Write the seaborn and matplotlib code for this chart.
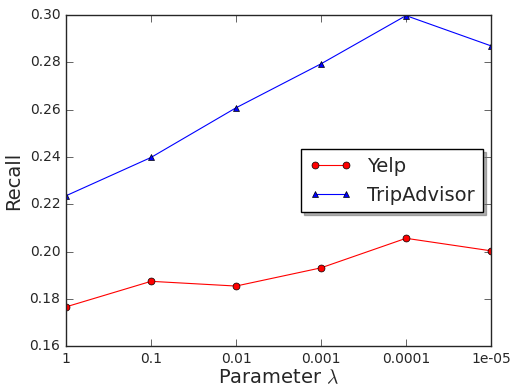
import seaborn as sns
import matplotlib.pyplot as plt
import pandas as pd

# values
lambdas = ["1", "0.1", "0.01", "0.001", "0.0001", "1e-05"]
yelp = [0.1766, 0.1874, 0.1854, 0.1931, 0.2056, 0.2003]
tripadvisor = [0.2236, 0.2398, 0.2608, 0.2794, 0.2998, 0.2870]

plt.style.use("classic")
sns.set_style("ticks", {"xtick.direction": "in", "ytick.direction": "in"})
plt.rcParams["font.family"] = ["DejaVu Sans"]

pos = list(range(len(lambdas)))
df = pd.DataFrame({"pos": pos, "Yelp": yelp, "TripAdvisor": tripadvisor})

fig = plt.figure(figsize=(5.12, 3.88), dpi=100)
ax = fig.add_axes([0.129, 0.108, 0.830, 0.853])

sns.lineplot(data=df, x="pos", y="Yelp", color="red", marker="o", markersize=5,
             markeredgecolor="black", markeredgewidth=0.5, linewidth=0.8, label="Yelp", ax=ax)
sns.lineplot(data=df, x="pos", y="TripAdvisor", color="blue", marker="^", markersize=5,
             markeredgecolor="black", markeredgewidth=0.5, linewidth=0.8, label="TripAdvisor", ax=ax)

ax.set_xlim(0, len(lambdas) - 1)
ax.set_ylim(0.16, 0.30)
ax.set_xticks(pos)
ax.set_xticklabels(lambdas)
ax.set_yticks([0.16, 0.18, 0.20, 0.22, 0.24, 0.26, 0.28, 0.30])
ax.set_yticklabels(["0.16", "0.18", "0.20", "0.22", "0.24", "0.26", "0.28", "0.30"])
ax.tick_params(direction="in", top=True, right=True, labelsize=10, length=5)
for s in ax.spines.values():
    s.set_visible(True)
    s.set_linewidth(1)
ax.set_xlabel("Parameter $\\lambda$", fontsize=14, labelpad=2)
ax.set_ylabel("Recall", fontsize=14)

leg = ax.legend(loc="upper right", bbox_to_anchor=(0.981, 0.595), fontsize=14,
                shadow={"ox": 2, "oy": -2, "color": "0.4"}, fancybox=False,
                numpoints=2, borderaxespad=0, handlelength=2.2)
leg.get_frame().set_edgecolor("black")

plt.savefig("out.png", dpi=100)
